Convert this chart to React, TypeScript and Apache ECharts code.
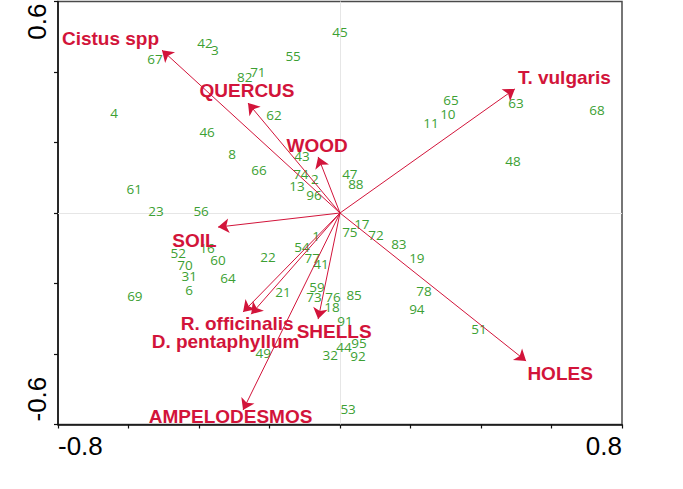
import React, { useEffect, useRef } from "react";
import * as echarts from "echarts";

// Site scores (green numbers)
const siteIds = ["1","2","3","4","6","8","10","11","13","16","17","18","19","21","22","23","31","32","41","42","43","44","45","46","47","48","49","51","52","53","54","55","56","59","60","61","62","63","64","65","66","67","68","69","70","71","72","73","74","75","76","77","78","82","83","85","88","91","92","94","95","96"];
const siteX = [-0.068,-0.071,-0.355,-0.641,-0.428,-0.306,0.306,0.258,-0.122,-0.377,0.062,-0.023,0.218,-0.162,-0.204,-0.522,-0.428,-0.028,-0.054,-0.383,-0.108,0.011,0.0,-0.377,0.028,0.491,-0.218,0.394,-0.459,0.023,-0.108,-0.133,-0.394,-0.065,-0.346,-0.584,-0.187,0.499,-0.318,0.315,-0.230,-0.525,0.729,-0.582,-0.440,-0.233,0.102,-0.074,-0.111,0.028,-0.020,-0.079,0.238,-0.270,0.167,0.040,0.045,0.014,0.051,0.218,0.054,-0.074];
const siteY = [-0.065,0.096,0.462,0.284,-0.218,0.167,0.281,0.255,0.077,-0.099,-0.031,-0.267,-0.128,-0.224,-0.125,0.006,-0.179,-0.403,-0.145,0.482,0.162,-0.380,0.513,0.230,0.111,0.148,-0.397,-0.329,-0.113,-0.556,-0.096,0.445,0.006,-0.210,-0.133,0.068,0.278,0.312,-0.184,0.321,0.122,0.437,0.292,-0.235,-0.148,0.400,-0.062,-0.238,0.111,-0.054,-0.238,-0.128,-0.221,0.386,-0.088,-0.233,0.082,-0.306,-0.406,-0.272,-0.369,0.051];

// Environmental / species vectors (red arrows)
const varNames = ["Cistus spp","QUERCUS","WOOD","T. vulgaris","HOLES","SOIL","R. officinalis","D. pentaphyllum","SHELLS","AMPELODESMOS"];
const varX = [-0.505,-0.261,-0.062,0.496,0.528,-0.346,-0.252,-0.275,-0.062,-0.275];
const varY = [0.462,0.312,0.159,0.352,-0.420,-0.040,-0.287,-0.281,-0.301,-0.559];

// Tick labels shown on the axes
const xTickLabels = [-0.8, 0.8];
const yTickLabels = [-0.6, 0.6];

// Label placement offsets (pixels) relative to the arrow tips
const labelOffsets: [number, number][] = [
  [-51.5, -12], [-1, -13], [-1, -11], [49.5, -11], [34, 12],
  [-23.5, 13], [-14, 9], [-17.5, 29], [16, 12], [-12.5, 6],
];

const RED = "#d2143a";
const GREEN = "#3c9f33";

export default function App() {
  const ref = useRef<HTMLDivElement>(null);
  useEffect(() => {
    const chart = echarts.init(ref.current!, null, { renderer: "svg" });
    const xMin = -0.8, xMax = 0.8, yMin = -0.6, yMax = 0.6;
    chart.setOption({
      animation: false,
      grid: {
        left: 58, right: 61, top: 1.5, bottom: 64.5,
        show: true, borderColor: "#4a4a4a", borderWidth: 1.5,
      },
      xAxis: {
        type: "value", min: xMin, max: xMax, interval: 0.2,
        axisLine: { show: true, onZero: false, lineStyle: { color: "#111", width: 1.5 } },
        axisTick: { show: true, length: 4, lineStyle: { color: "#111", width: 1.2 } },
        axisLabel: { show: false },
        splitLine: { show: false },
      },
      yAxis: {
        type: "value", min: yMin, max: yMax, interval: 0.2,
        axisLine: { show: true, onZero: false, lineStyle: { color: "#111", width: 1.5 } },
        axisTick: { show: true, length: 4, lineStyle: { color: "#111", width: 1.2 } },
        axisLabel: { show: false },
        splitLine: { show: false },
      },
      series: [
        {
          type: "lines",
          coordinateSystem: "cartesian2d",
          silent: true,
          z: 1,
          symbol: ["none", "none"],
          lineStyle: { color: "#e6e6e6", width: 1, opacity: 1 },
          data: [
            { coords: [[0, yMin], [0, yMax]] },
            { coords: [[xMin, 0], [xMax, 0]] },
          ],
        },
        {
          type: "scatter",
          z: 3,
          symbolSize: 1,
          itemStyle: { color: "rgba(0,0,0,0)", opacity: 1 },
          label: {
            show: true, position: "inside",
            formatter: (p: any) => p.data[2],
            color: GREEN, fontSize: 13.5, fontFamily: "Open Sans",
          },
          data: siteIds.map((id, i) => [siteX[i], siteY[i], id]),
        },
        {
          type: "lines",
          coordinateSystem: "cartesian2d",
          z: 4,
          symbol: ["none", "arrow"],
          symbolSize: 11,
          lineStyle: { color: RED, width: 1, opacity: 1 },
          data: varNames.map((n, i) => ({ coords: [[0, 0], [varX[i], varY[i]]] })),
        },
        {
          type: "scatter",
          z: 5,
          symbolSize: 1,
          itemStyle: { color: "rgba(0,0,0,0)", opacity: 1 },
          label: {
            show: true, position: "inside",
            formatter: (p: any) => p.data.name,
            color: RED, fontSize: 19, fontWeight: "bold", fontFamily: "Liberation Sans",
          },
          data: varNames.map((n, i) => ({
            name: n,
            value: [varX[i], varY[i]],
            label: { offset: labelOffsets[i] },
          })),
        },
      ],
    });

    const graphics: any[] = [];
    xTickLabels.forEach((v, i) => {
      const p = chart.convertToPixel({ gridIndex: 0 }, [v, yMin]) as number[];
      graphics.push({
        type: "text", x: p[0], y: p[1] + 21,
        style: {
          text: String(v), fontSize: 26, fontFamily: "Liberation Sans", fill: "#000",
          align: i === 0 ? "left" : "right", verticalAlign: "middle",
        },
      });
    });
    yTickLabels.forEach((v, i) => {
      const p = chart.convertToPixel({ gridIndex: 0 }, [xMin, v]) as number[];
      graphics.push({
        type: "text", x: p[0] - 21, y: i === 0 ? p[1] - 3 : p[1] + 2,
        rotation: Math.PI / 2,
        style: {
          text: String(v), fontSize: 26, fontFamily: "Liberation Sans", fill: "#000",
          align: i === 0 ? "left" : "right", verticalAlign: "middle",
        },
      });
    });
    chart.setOption({ graphic: graphics });

    return () => chart.dispose();
  }, []);
  return (
    <div
      ref={ref}
      style={{ position: "absolute", left: 0, top: 0, width: 683, height: 489 }}
    />
  );
}
